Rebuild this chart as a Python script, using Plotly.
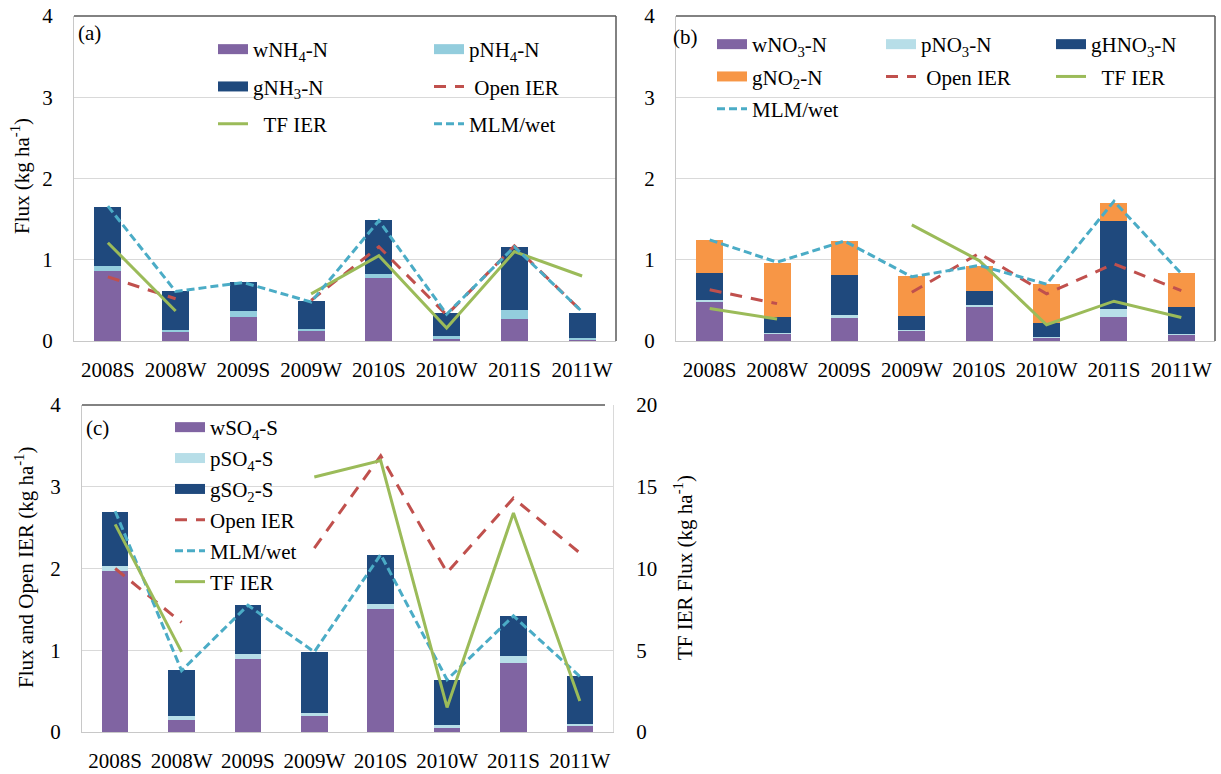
import plotly.graph_objects as go

W, H = 1221, 774
cats = ["2008S", "2008W", "2009S", "2009W", "2010S", "2010W", "2011S", "2011W"]

# Panel (a) NH4/NH3
a_wNH4 = [0.86, 0.11, 0.30, 0.12, 0.78, 0.03, 0.27, 0.02]
a_pNH4 = [0.06, 0.03, 0.065, 0.03, 0.05, 0.03, 0.11, 0.02]
a_gNH3 = [0.73, 0.47, 0.365, 0.34, 0.66, 0.28, 0.78, 0.31]
a_open = [0.79, 0.52, None, 0.50, 1.16, 0.32, 1.17, 0.36]
a_tf = [1.21, 0.37, None, 0.58, 1.05, 0.16, 1.10, 0.80]
a_mlm = [1.66, 0.61, 0.72, 0.48, 1.48, 0.33, 1.16, 0.36]

# Panel (b) NO3/HNO3/NO2
b_wNO3 = [0.49, 0.09, 0.295, 0.13, 0.425, 0.04, 0.29, 0.08]
b_pNO3 = [0.02, 0.01, 0.02, 0.01, 0.015, 0.01, 0.11, 0.005]
b_gHNO3 = [0.325, 0.195, 0.495, 0.17, 0.17, 0.175, 1.08, 0.335]
b_gNO2 = [0.405, 0.665, 0.42, 0.49, 0.31, 0.475, 0.22, 0.415]
b_open = [0.63, 0.46, None, 0.60, 1.08, 0.58, 0.95, 0.62]
b_tf = [0.40, 0.27, None, 1.43, 0.99, 0.20, 0.49, 0.29]
b_mlm = [1.245, 0.97, 1.23, 0.79, 0.93, 0.70, 1.72, 0.83]

# Panel (c) SO4/SO2
c_wSO4 = [1.97, 0.15, 0.89, 0.195, 1.51, 0.05, 0.84, 0.07]
c_pSO4 = [0.06, 0.04, 0.06, 0.04, 0.05, 0.04, 0.09, 0.03]
c_gSO2 = [0.66, 0.57, 0.60, 0.745, 0.60, 0.55, 0.49, 0.59]
c_open = [2.00, 1.34, None, 2.25, 3.38, 1.95, 2.86, 2.19]
c_mlm = [2.70, 0.75, 1.55, 0.98, 2.17, 0.64, 1.42, 0.68]
c_tf = [12.7, 4.9, None, 15.6, 16.6, 1.5, 13.4, 1.9]

PURPLE = "#8064A2"
LBLUE_A = "#93CDDD"
LBLUE = "#B7DEE8"
NAVY = "#1F497D"
ORANGE = "#F79646"
RED = "#C0504D"
GREEN = "#9BBB59"
CYAN = "#4BACC6"
FONT = "Liberation Serif, Times New Roman, serif"
FS = 21

RED_DASH = "12px,9px"
CYAN_DASH = "8px,4px"

fig = go.Figure()


def add_bar(y, name, color, xa, ya, legend):
    fig.add_trace(go.Bar(x=cats, y=y, name=name, marker=dict(color=color, line=dict(width=0)),
                         xaxis=xa, yaxis=ya, showlegend=False, legendgroup=legend + name))
    # legend proxy drawn as a wide swatch
    fig.add_trace(go.Scatter(x=[None], y=[None], mode="lines", name=name,
                             line=dict(color=color, width=10), xaxis=xa, yaxis=ya,
                             legend=legend, legendgroup=legend + name))


def add_line(y, name, color, dash, xa, ya, legend, label=None):
    fig.add_trace(go.Scatter(x=cats, y=y, mode="lines", name=label or name,
                             line=dict(color=color, width=3, dash=dash), connectgaps=False,
                             xaxis=xa, yaxis=ya, legend=legend, legendgroup=legend + name))


NB = "\u00a0"
# ---- Panel (a)
add_bar(a_wNH4, "wNH<sub>4</sub>-N", PURPLE, "x", "y", "legend")
add_bar(a_pNH4, "pNH<sub>4</sub>-N", LBLUE_A, "x", "y", "legend2")
add_bar(a_gNH3, "gNH<sub>3</sub>-N", NAVY, "x", "y", "legend")
add_line(a_open, "Open IER", RED, RED_DASH, "x", "y", "legend2", NB + "Open IER")
add_line(a_tf, "TF IER", GREEN, None, "x", "y", "legend", NB * 2 + "TF IER")
add_line(a_mlm, "MLM/wet", CYAN, CYAN_DASH, "x", "y", "legend2")

# ---- Panel (b)
add_bar(b_wNO3, "wNO<sub>3</sub>-N", PURPLE, "x2", "y2", "legend3")
add_bar(b_pNO3, "pNO<sub>3</sub>-N", LBLUE, "x2", "y2", "legend4")
add_bar(b_gHNO3, "gHNO<sub>3</sub>-N", NAVY, "x2", "y2", "legend5")
add_bar(b_gNO2, "gNO<sub>2</sub>-N", ORANGE, "x2", "y2", "legend3")
add_line(b_open, "Open IER", RED, RED_DASH, "x2", "y2", "legend4", NB + "Open IER")
add_line(b_tf, "TF IER", GREEN, None, "x2", "y2", "legend5", NB * 2 + "TF IER")
add_line(b_mlm, "MLM/wet", CYAN, CYAN_DASH, "x2", "y2", "legend3")

# ---- Panel (c)
add_bar(c_wSO4, "wSO<sub>4</sub>-S", PURPLE, "x3", "y3", "legend6")
add_bar(c_pSO4, "pSO<sub>4</sub>-S", LBLUE, "x3", "y3", "legend6")
add_bar(c_gSO2, "gSO<sub>2</sub>-S", NAVY, "x3", "y3", "legend6")
add_line(c_open, "Open IER", RED, RED_DASH, "x3", "y3", "legend6")
add_line(c_mlm, "MLM/wet", CYAN, CYAN_DASH, "x3", "y3", "legend6")
add_line(c_tf, "TF IER", GREEN, None, "x3", "y4", "legend6")


def px_x(p):
    return p / W


def px_y(p):
    return 1 - p / H


tickfont = dict(family=FONT, size=FS, color="#000000")
GRID = "#d9d9d9"
LINE = "#c8c8c8"


def xaxis(dom, anchor):
    return dict(domain=dom, anchor=anchor, type="category", tickfont=tickfont,
                showline=True, linecolor=LINE, linewidth=1, showgrid=False, zeroline=False,
                ticks="", ticklabelstandoff=10, fixedrange=True, automargin=False,
                ticklabeloverflow="allow")


def yaxis(dom, anchor):
    return dict(domain=dom, anchor=anchor, range=[0, 4], dtick=1, tickfont=tickfont,
                showline=True, linecolor=LINE, linewidth=1, mirror=False,
                showgrid=True, gridcolor=GRID, gridwidth=1, zeroline=False,
                ticks="", ticklabelstandoff=16, fixedrange=True, automargin=False,
                ticklabeloverflow="allow")


yd_top = [px_y(341), px_y(16)]
yd_c = [px_y(732), px_y(405)]

legend_common = dict(bgcolor="rgba(0,0,0,0)", font=dict(family=FONT, size=FS, color="#000000"),
                     orientation="v", xanchor="left", yanchor="top", traceorder="grouped",
                     itemclick=False, itemdoubleclick=False, borderwidth=0)

fig.update_layout(
    template="none",
    width=W, height=H,
    margin=dict(l=0, r=0, t=0, b=0, autoexpand=False),
    paper_bgcolor="white", plot_bgcolor="white",
    barmode="stack", bargap=0.6,
    font=dict(family=FONT, size=FS, color="#000000"),
    xaxis=xaxis([px_x(74), px_x(616)], "y"),
    yaxis=yaxis(yd_top, "x"),
    xaxis2=xaxis([px_x(676), px_x(1215)], "y2"),
    yaxis2=yaxis(yd_top, "x2"),
    xaxis3=xaxis([px_x(82), px_x(613)], "y3"),
    yaxis3=yaxis(yd_c, "x3"),
    yaxis4=dict(overlaying="y3", anchor="x3", side="right", range=[0, 20], dtick=5,
                tickfont=tickfont, showgrid=False, zeroline=False, showline=True,
                linecolor=GRID, ticks="", ticklabelstandoff=18, fixedrange=True,
                automargin=False, ticklabeloverflow="allow"),
    legend=dict(legend_common, x=px_x(213), y=px_y(29), tracegroupgap=7),
    legend2=dict(legend_common, x=px_x(429), y=px_y(29), tracegroupgap=7),
    legend3=dict(legend_common, x=px_x(712), y=px_y(24), tracegroupgap=2),
    legend4=dict(legend_common, x=px_x(881), y=px_y(24), tracegroupgap=2),
    legend5=dict(legend_common, x=px_x(1051), y=px_y(24), tracegroupgap=2),
    legend6=dict(legend_common, x=px_x(170), y=px_y(407), tracegroupgap=0.6),
)

DARK = "#595959"
shapes = []
for xr, yr, right in [("x", "y", True), ("x2", "y2", True), ("x3", "y3", False)]:
    shapes.append(dict(type="line", xref=xr + " domain", yref=yr + " domain",
                       x0=0, x1=1 if right else 0.985, y0=1, y1=1, line=dict(color=DARK, width=1.5)))
    if right:
        shapes.append(dict(type="line", xref=xr + " domain", yref=yr + " domain",
                           x0=1, x1=1, y0=0, y1=1, line=dict(color=DARK, width=1.5)))
fig.update_layout(shapes=shapes)

ann_font = dict(family=FONT, size=FS, color="#000000")
annotations = [
    dict(text="(a)", x=px_x(76), y=px_y(33), xref="paper", yref="paper",
         xanchor="left", yanchor="middle", showarrow=False, font=ann_font),
    dict(text="(b)", x=px_x(671), y=px_y(37), xref="paper", yref="paper",
         xanchor="left", yanchor="middle", showarrow=False, font=ann_font),
    dict(text="(c)", x=px_x(84), y=px_y(428), xref="paper", yref="paper",
         xanchor="left", yanchor="middle", showarrow=False, font=ann_font),
    dict(text="Flux (kg ha<sup>-1</sup>)", x=px_x(20), y=px_y(176), xref="paper", yref="paper",
         xanchor="center", yanchor="middle", textangle=-90, showarrow=False, font=ann_font),
    dict(text="Flux and Open IER (kg ha<sup>-1</sup>)", x=px_x(24), y=px_y(568), xref="paper",
         yref="paper", xanchor="center", yanchor="middle", textangle=-90, showarrow=False,
         font=ann_font),
    dict(text="TF IER Flux (kg ha<sup>-1</sup>)", x=px_x(683), y=px_y(568), xref="paper",
         yref="paper", xanchor="center", yanchor="middle", textangle=-90, showarrow=False,
         font=ann_font),
]
fig.update_layout(annotations=annotations)

# remove the default page margin so the figure fills the window exactly
fig.write_html("out.html", config={"displayModeBar": False},
               post_script="document.body.style.margin='0px';")
